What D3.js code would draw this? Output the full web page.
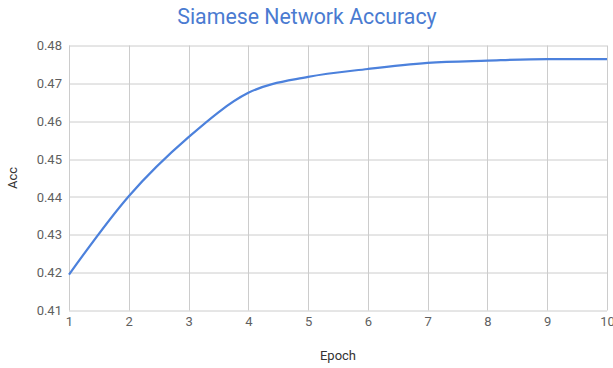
<!DOCTYPE html>
<html>
<head>
<meta charset="utf-8">
<script src="https://cdn.jsdelivr.net/npm/d3@7"></script>
<style>
  html, body { margin: 0; padding: 0; background: #fff; }
  svg { display: block; font-family: Roboto, "Noto Sans", Arial, sans-serif; }
</style>
</head>
<body>
<svg id="chart" width="613" height="368"></svg>
<script>
// Training accuracy of the siamese network per epoch
const epochs = [1, 2, 3, 4, 5, 6, 7, 8, 9, 10];
const accuracy = [0.4195, 0.4402, 0.4558, 0.4675, 0.4717, 0.4738, 0.4754, 0.4760, 0.4764, 0.4764];
const xTicks = [1, 2, 3, 4, 5, 6, 7, 8, 9, 10];
const yTicks = [0.41, 0.42, 0.43, 0.44, 0.45, 0.46, 0.47, 0.48];

const title = "Siamese Network Accuracy";
const xLabel = "Epoch";
const yLabel = "Acc";

const W = 613, H = 368;
const margin = { top: 45.5, right: 6, bottom: 57.5, left: 69 };
const innerW = W - margin.left - margin.right;
const innerH = H - margin.top - margin.bottom;

const svg = d3.select("#chart");
const g = svg.append("g").attr("transform", `translate(${margin.left},${margin.top})`);

const x = d3.scaleLinear().domain([1, 10]).range([0, innerW]);
const y = d3.scaleLinear().domain([0.41, 0.48]).range([innerH, 0]);

// Grid
g.append("g")
  .selectAll("line")
  .data(yTicks)
  .join("line")
  .attr("x1", 0).attr("x2", innerW)
  .attr("y1", d => Math.round(y(d)) + 0.5).attr("y2", d => Math.round(y(d)) + 0.5)
  .attr("stroke", "#cccccc").attr("stroke-width", 1);

g.append("g")
  .selectAll("line")
  .data(xTicks)
  .join("line")
  .attr("y1", 0).attr("y2", innerH)
  .attr("x1", d => Math.round(x(d)) + 0.5).attr("x2", d => Math.round(x(d)) + 0.5)
  .attr("stroke", "#cccccc").attr("stroke-width", 1);

// Axes (labels only, grid drawn above)
const yAxis = d3.axisLeft(y).tickValues(yTicks).tickFormat(d3.format(".2f")).tickSize(0).tickPadding(7);
const xAxis = d3.axisBottom(x).tickValues(xTicks).tickFormat(d3.format("d")).tickSize(0).tickPadding(6);

const ya = g.append("g").call(yAxis);
const xa = g.append("g").attr("transform", `translate(0,${innerH})`).call(xAxis);
[ya, xa].forEach(a => {
  a.select(".domain").remove();
  a.selectAll("text").attr("fill", "#5f5f5f").style("font-size", "13px")
    .style("font-family", "Roboto, 'Noto Sans', Arial, sans-serif");
});

// Line
const line = d3.line()
  .x((d, i) => x(epochs[i]))
  .y(d => y(d))
  .curve(d3.curveMonotoneX);

g.append("path")
  .datum(accuracy)
  .attr("fill", "none")
  .attr("stroke", "#4c81dc")
  .attr("stroke-width", 2.2)
  .attr("stroke-linejoin", "round")
  .attr("d", line);

// Title and axis titles
svg.append("text")
  .attr("x", 307).attr("y", 24)
  .attr("text-anchor", "middle")
  .attr("fill", "#4a7bd1")
  .style("font-size", "21.3px")
  .text(title);

svg.append("text")
  .attr("x", margin.left + innerW / 2).attr("y", 360)
  .attr("text-anchor", "middle")
  .attr("fill", "#333")
  .style("font-size", "13px")
  .text(xLabel);

svg.append("text")
  .attr("transform", `translate(17,${margin.top + innerH / 2}) rotate(-90)`)
  .attr("text-anchor", "middle")
  .attr("fill", "#333")
  .style("font-size", "13px")
  .text(yLabel);
</script>
</body>
</html>
